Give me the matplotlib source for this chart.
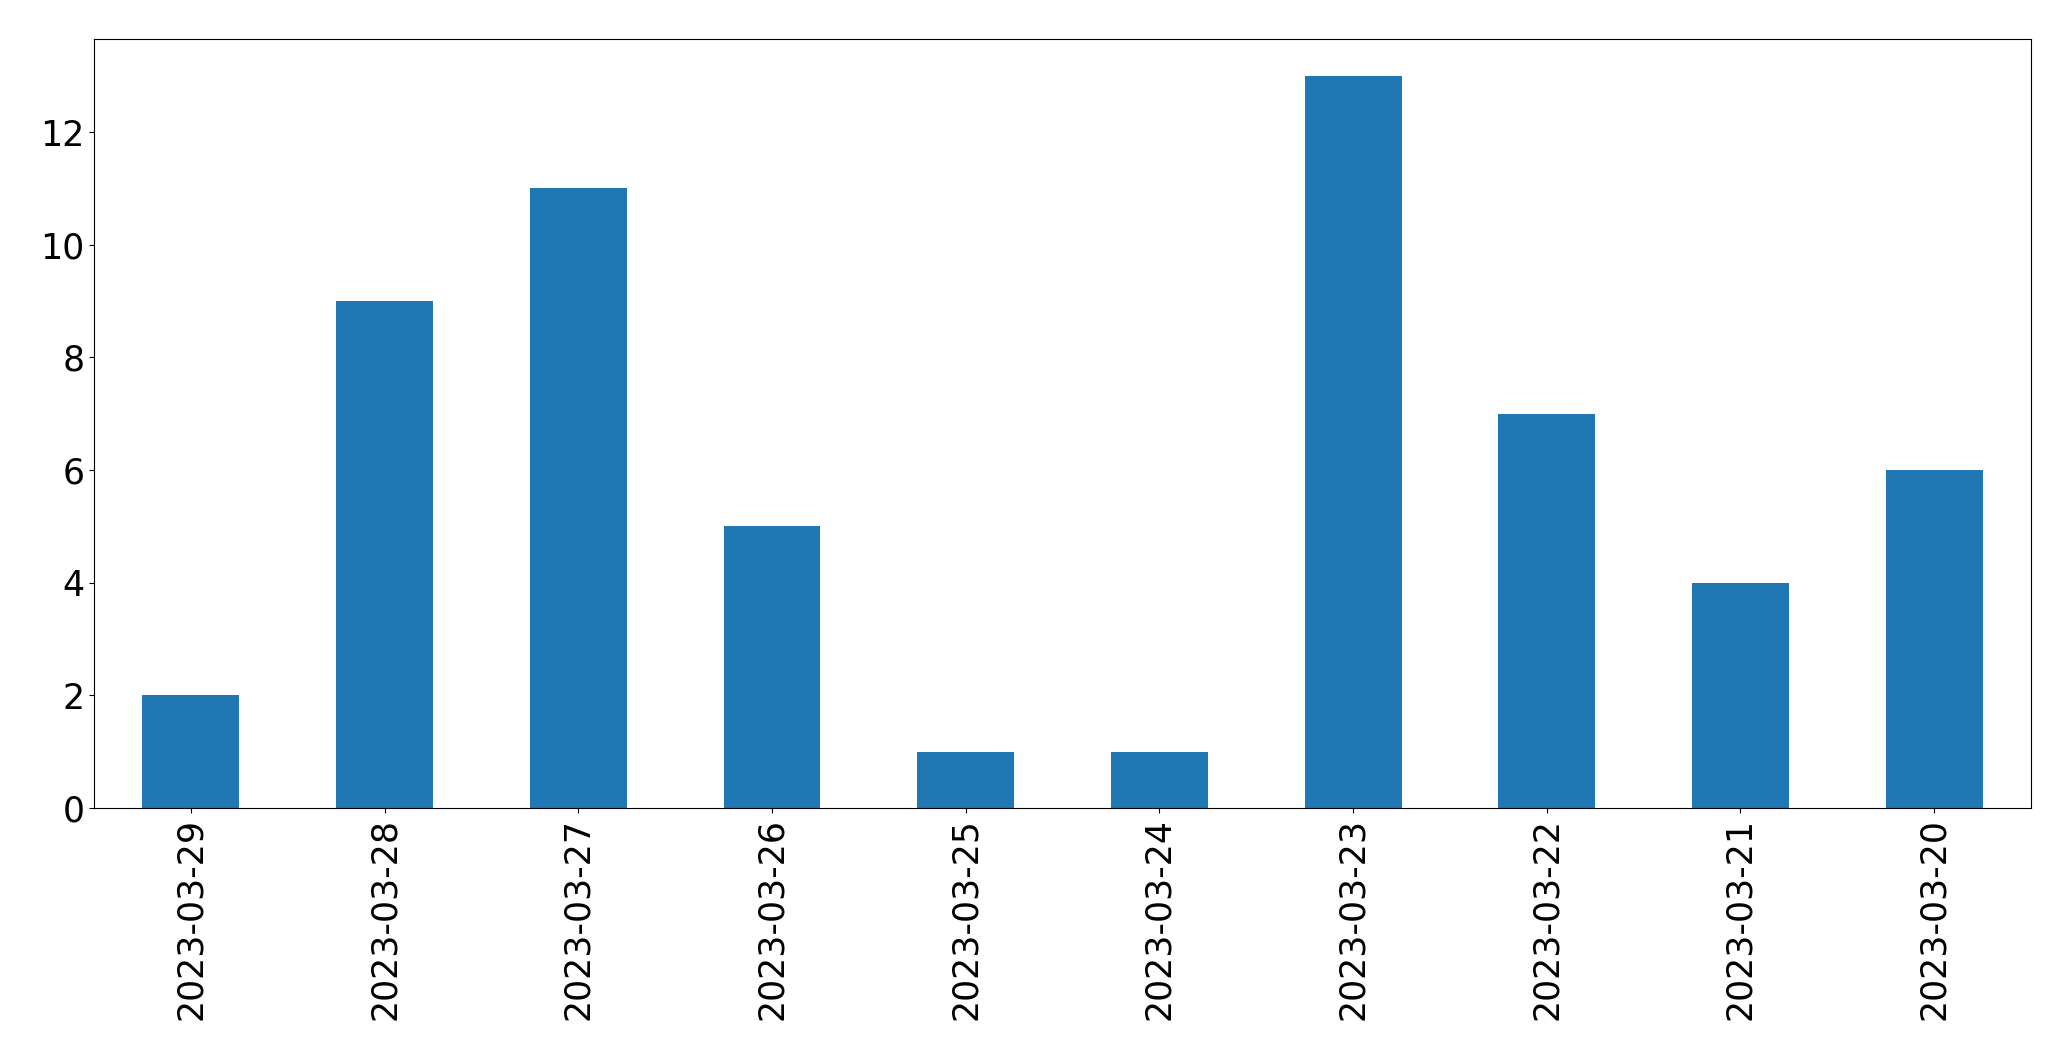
import pandas as pd
import matplotlib
matplotlib.use("Agg")
import matplotlib.pyplot as plt

dates = ["2023-03-29", "2023-03-28", "2023-03-27", "2023-03-26", "2023-03-25",
         "2023-03-24", "2023-03-23", "2023-03-22", "2023-03-21", "2023-03-20"]
counts = [2, 9, 11, 5, 1, 1, 13, 7, 4, 6]

plt.rcParams["font.size"] = 25

s = pd.Series(counts, index=dates)
fig = plt.figure(figsize=(20.71, 10.61), dpi=100)
ax = fig.add_axes([0.0454, 0.2385, 0.9353, 0.7245])
s.plot.bar(ax=ax, color="#1f77b4")
ax.tick_params(labelsize=25)

fig.savefig("out.png", dpi=100)
